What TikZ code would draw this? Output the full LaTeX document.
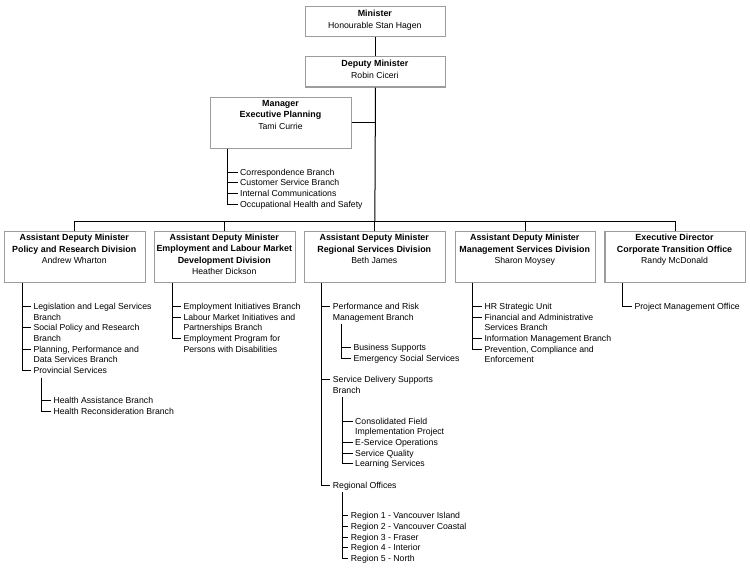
\documentclass[tikz,border=0pt]{standalone}
\usepackage{fontspec}
\setmainfont{Liberation Sans}
\begin{document}
\begin{tikzpicture}[x=1pt,y=-1pt,
  box/.style={draw=gray!78, line width=1.25pt, fill=white, inner sep=0pt, anchor=north west},
  ttl/.style={align=center, inner sep=0pt, anchor=base, font=\fontsize{8.7}{11.5}\selectfont},
  item/.style={align=left, inner xsep=2.5pt, inner ysep=0pt, anchor=base west, font=\fontsize{8.7}{10.7}\selectfont},
  conn/.style={line width=1pt, black}]
\newcommand{\bt}[1]{{\fontsize{8.9}{11.5}\selectfont\bfseries #1}}
\useasboundingbox (0,0) rectangle (750,568);

% top boxes
\node[box, minimum width=140.3pt, minimum height=30pt] (min) at (304.7,5.7) {};
\node[ttl] (mint) at (374.85,28.3) {\bt{Minister}\\Honourable Stan Hagen};
\node[box, minimum width=140.3pt, minimum height=30.3pt] (dep) at (304.7,56) {};
\node[ttl] (dept) at (374.85,78.1) {\bt{Deputy Minister}\\Robin Ciceri};
\node[box, minimum width=141pt, minimum height=51pt] (mgr) at (210,96.7) {};
\node[ttl] (mgrt) at (280.5,129.1) {\bt{Manager}\\\bt{Executive Planning}\\Tami Currie};

% ADM boxes
\node[box, minimum width=140.5pt, minimum height=51pt] (adm1) at (4,230.7) {};
\node[ttl] (adm1t) at (74.25,263.8) {\bt{Assistant Deputy Minister}\\\bt{Policy and Research Division}\\Andrew Wharton};
\node[box, minimum width=140.5pt, minimum height=51pt] (adm2) at (154,230.7) {};
\node[ttl] (adm2t) at (224.25,274.8) {\bt{Assistant Deputy Minister}\\\bt{Employment and Labour Market}\\\bt{Development Division}\\Heather Dickson};
\node[box, minimum width=140.5pt, minimum height=51pt] (adm3) at (304,230.7) {};
\node[ttl] (adm3t) at (374.25,263.8) {\bt{Assistant Deputy Minister}\\\bt{Regional Services Division}\\Beth James};
\node[box, minimum width=140.5pt, minimum height=51pt] (adm4) at (454.5,230.7) {};
\node[ttl] (adm4t) at (524.75,263.8) {\bt{Assistant Deputy Minister}\\\bt{Management Services Division}\\Sharon Moysey};
\node[box, minimum width=140.5pt, minimum height=51pt] (adm5) at (604.3,230.7) {};
\node[ttl] (adm5t) at (674.55,263.8) {\bt{Executive Director}\\\bt{Corporate Transition Office}\\Randy McDonald};

% main connectors
\coordinate (bus) at (374.85,221);
\draw[conn] (min.south) -- (dep.north);
\draw[conn] (dep.south) -- (bus);
\draw[conn] (mgr.east) -- (mgr.east -| dep.south);
\draw[conn] (adm1.north) -- (adm1.north |- bus) -- (adm5.north |- bus) -- (adm5.north);
\draw[conn] (adm2.north) -- (adm2.north |- bus);
\draw[conn] (adm3.north) -- (adm3.north |- bus);
\draw[conn] (adm4.north) -- (adm4.north |- bus);

% Manager list
\coordinate (vm) at ([xshift=17.7pt]mgr.south west);
\node[item] (m1) at (237.5,175) {Correspondence Branch};
\node[item] (m2) at (237.5,185.7) {Customer Service Branch};
\node[item] (m3) at (237.5,196.4) {Internal Communications};
\node[item] (m4) at (237.5,207.1) {Occupational Health and Safety};
\foreach \n/\k in {m1/0,m2/0,m3/0,m4/0} \draw[conn] (vm) |- ([yshift=3pt+\k*10.7pt]\n.base west);

% ADM1 list
\coordinate (v1) at ([xshift=18pt]adm1.south west);
\node[item] (a1) at (30.8,320) {Legislation and Legal Services\\Branch};
\node[item] (a2) at (30.8,341.4) {Social Policy and Research\\Branch};
\node[item] (a3) at (30.8,362.8) {Planning, Performance and\\Data Services Branch};
\node[item] (a4) at (30.8,373.5) {Provincial Services};
\foreach \n/\k in {a1/1,a2/1,a3/1,a4/0} \draw[conn] (v1) |- ([yshift=3pt+\k*10.7pt]\n.base west);
\coordinate (s1) at (41,377.5);
\node[item] (a41) at (50.8,403.3) {Health Assistance Branch};
\node[item] (a42) at (50.8,414) {Health Reconsideration Branch};
\foreach \n/\k in {a41/0,a42/0} \draw[conn] (s1) |- ([yshift=3pt+\k*10.7pt]\n.base west);

% ADM2 list
\coordinate (v2) at ([xshift=18pt]adm2.south west);
\node[item] (b1) at (180.8,309.3) {Employment Initiatives Branch};
\node[item] (b2) at (180.8,330.7) {Labour Market Initiatives and\\Partnerships Branch};
\node[item] (b3) at (180.8,352.1) {Employment Program for\\Persons with Disabilities};
\foreach \n/\k in {b1/0,b2/1,b3/1} \draw[conn] (v2) |- ([yshift=3pt+\k*10.7pt]\n.base west);

% ADM3 list
\coordinate (v3) at ([xshift=17pt]adm3.south west);
\node[item] (c1) at (330.2,320) {Performance and Risk\\Management Branch};
\node[item] (c2) at (330.2,393) {Service Delivery Supports\\Branch};
\node[item] (c3) at (330.2,488.3) {Regional Offices};
\foreach \n/\k in {c1/1,c2/1,c3/0} \draw[conn] (v3) |- ([yshift=3pt+\k*10.7pt]\n.base west);
\coordinate (s3a) at (341.7,323.5);
\node[item] (c11) at (350.8,350.3) {Business Supports};
\node[item] (c12) at (350.8,361) {Emergency Social Services};
\foreach \n/\k in {c11/0,c12/0} \draw[conn] (s3a) |- ([yshift=3pt+\k*10.7pt]\n.base west);
\coordinate (s3b) at (342.7,397);
\node[item] (c21) at (352.5,434.7) {Consolidated Field\\Implementation Project};
\node[item] (c22) at (352.5,445.4) {E-Service Operations};
\node[item] (c23) at (352.5,456.1) {Service Quality};
\node[item] (c24) at (352.5,466.8) {Learning Services};
\foreach \n/\k in {c21/1,c22/0,c23/0,c24/0} \draw[conn] (s3b) |- ([yshift=3pt+\k*10.7pt]\n.base west);
\coordinate (s3c) at (342.7,492);
\node[item] (c31) at (348.2,518.7) {Region 1 - Vancouver Island};
\node[item] (c32) at (348.2,529.4) {Region 2 - Vancouver Coastal};
\node[item] (c33) at (348.2,540.1) {Region 3 - Fraser};
\node[item] (c34) at (348.2,550.8) {Region 4 - Interior};
\node[item] (c35) at (348.2,561.5) {Region 5 - North};
\foreach \n/\k in {c31/0,c32/0,c33/0,c34/0,c35/0} \draw[conn] (s3c) |- ([yshift=3pt+\k*10.7pt]\n.base west);

% ADM4 list
\coordinate (v4) at ([xshift=17.8pt]adm4.south west);
\node[item] (d1) at (481.8,309.3) {HR Strategic Unit};
\node[item] (d2) at (481.8,330.7) {Financial and Administrative\\Services Branch};
\node[item] (d3) at (481.8,341.4) {Information Management Branch};
\node[item] (d4) at (481.8,362.8) {Prevention, Compliance and\\Enforcement};
\foreach \n/\k in {d1/0,d2/1,d3/0,d4/1} \draw[conn] (v4) |- ([yshift=3pt+\k*10.7pt]\n.base west);

% ADM5 list
\coordinate (v5) at ([xshift=18pt]adm5.south west);
\node[item] (e1) at (631.8,309.3) {Project Management Office};
\draw[conn] (v5) |- ([yshift=3pt]e1.base west);
\end{tikzpicture}
\end{document}
